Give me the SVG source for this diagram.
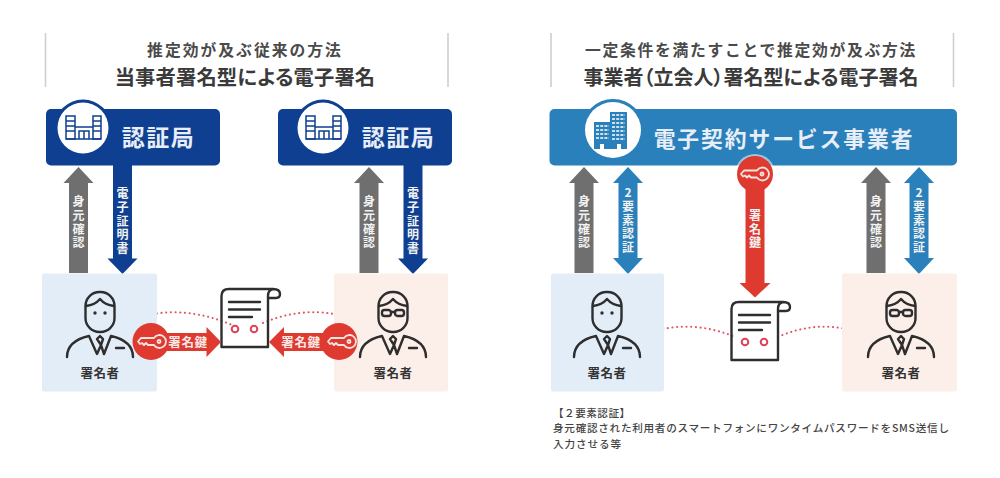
<svg xmlns="http://www.w3.org/2000/svg" xmlns:xlink="http://www.w3.org/1999/xlink" width="1000" height="478" viewBox="0 0 1000 478">
<style>
text{font-family:"Noto Sans CJK JP","Noto Sans",sans-serif;}
.rule{stroke:#cfcfcf;stroke-width:1.6;fill:none}
.t1{font-size:15.8px;font-weight:700;fill:#4a4a4a;text-anchor:middle;letter-spacing:2px}
.t2{font-size:20px;font-weight:700;fill:#3a3a3a;text-anchor:middle;font-feature-settings:"palt"}
.navy{fill:#0e3f91}.sky{fill:#2a80ba}.gray{fill:#6f6f6f}.red{fill:#de3a30}
.big{font-size:23px;font-weight:700;fill:#e8eef7;text-anchor:middle;letter-spacing:1.5px}
.v{font-size:12px;font-weight:700;fill:#f2f2f2;writing-mode:vertical-rl;text-anchor:middle;text-orientation:upright;letter-spacing:1.8px}
.h{font-size:12.5px;font-weight:700;fill:#fbe9e7;text-anchor:middle;letter-spacing:.6px}
.who{font-size:12.5px;font-weight:700;fill:#333;text-anchor:middle;letter-spacing:.5px}
.ln{fill:none;stroke:#2e2e2e;stroke-width:2.4;stroke-linecap:round;stroke-linejoin:round}
.dot{fill:none;stroke:#e0576a;stroke-width:2.1;stroke-dasharray:.1 4.6;stroke-linecap:round}
.note{font-size:10.6px;fill:#444;font-weight:500}
</style>
<defs>
<g id="person-base">
<rect class="ln" x="-14.5" y="0" width="29" height="40" rx="14"/>
<path class="ln" d="M-14 14Q-5 13 0 7Q5 13 14 14"/>
<path class="ln" d="M-33 65C-33 54 -24 47 -11 44L-3 62L1 53L-3 47L0 44L3 47L1 53L4 62L11 44C24 47 33 54 33 65M16 56H24"/>
</g>
<g id="person-a"><use xlink:href="#person-base"/><circle cx="-5" cy="21" r="1.7" fill="#2e2e2e"/><circle cx="5" cy="21" r="1.7" fill="#2e2e2e"/></g>
<g id="person-b"><use xlink:href="#person-base"/><rect class="ln" x="-11" y="18" width="9" height="6" rx="2.5"/><rect class="ln" x="2" y="18" width="9" height="6" rx="2.5"/><path class="ln" d="M-2 20H2"/></g>
<g id="doc">
<path class="ln" d="M250 289H229Q221.500 289 221.500 296V347H268V296Q268 290 273 289H250M273 289Q280 289 280 294Q280 298 276 298H268"/>
<path class="ln" d="M229 302H260M229 309.500H260M229 317H252"/>
<circle cx="235" cy="329" r="3.300" fill="none" stroke="#e0405a" stroke-width="2"/>
<circle cx="254" cy="329" r="3.300" fill="none" stroke="#e0405a" stroke-width="2"/>
</g>
<g id="key" fill="none" stroke="#f7e3e1" stroke-width="1.800" stroke-linejoin="round">
<path d="M3 -3.500A6.500 6.500 0 1 1 3 3.500H-3L-5 1.500L-7 3.500L-9 1.500L-11 2.500L-13 0L-10 -3.500Z"/><circle cx="8" cy="0" r="1.500"/>
</g>
<g id="bldg-a" fill="none" stroke="#0e3f91" stroke-width="1.500">
<rect x="-17" y="-12" width="9" height="23"/><rect x="10" y="-12" width="8" height="23"/><path d="M-8 -1H10M-4 11V3H6V11M-17 11H18M-17 -7H-8M-17 -2H-8M-17 3H-8M10 -7H18M10 -2H18M10 3H18M1 3V11"/>
</g>
<g id="bldg-b">
<rect x="-17" y="-8" width="17" height="27" fill="#2a80ba"/><rect x="-1" y="-18" width="17" height="37" fill="#2a80ba"/>
<path stroke="#fff" stroke-width="1.500" fill="none" stroke-dasharray="3 1.200" d="M-15 -4H-2M-15 0H-2M-15 4H-2M-15 8H-2M1 -15H14M1 -11H14M1 -7H14M1 -3H14M1 1H14M1 5H14M1 9H14"/>
<path fill="#fff" d="M-11 14h4v5h-4zM6 14h4v5h-4z"/>
</g>
<path id="up" d="M0 -53L15 -37H9.500V53H-9.500V-37H-15Z"/>
<path id="down" d="M0 54.500L15 39H9.500V-54.500H-9.500V39H-15Z"/>
<path id="both" d="M0 -53.500L15 -37.500H9.500V37.500H15L0 53.500L-15 37.500H-9.500V-37.500H-15Z"/>
</defs>

<g id="header-left">
<path class="rule" d="M45.500 33V87M448 33V87"/>
<text class="t1" x="245" y="56">推定効が及ぶ従来の方法</text>
<text class="t2" x="245" y="85" style="font-size:20.300px;letter-spacing:.15px">当事者署名型による電子署名</text>
</g>
<g id="header-right">
<path class="rule" d="M551 33V87M953.500 33V87"/>
<text class="t1" x="751" y="56" style="letter-spacing:1.7px">一定条件を満たすことで推定効が及ぶ方法</text>
<text class="t2" x="751" y="85">事業者（立会人）署名型による電子署名</text>
</g>

<g id="connectors">
<path class="dot" d="M134 319Q180 303 232 325"/>
<path class="dot" d="M263 323Q310 303 356 320"/>
<path class="dot" d="M645 334Q690 318 735 337"/>
<path class="dot" d="M778 337Q820 318 864 334"/>
<g id="arrows-left">
<use class="gray" xlink:href="#up" x="78.500" y="220"/>
<use class="navy" xlink:href="#down" x="122.500" y="219.500"/>
<use class="gray" xlink:href="#up" x="369" y="220"/>
<use class="navy" xlink:href="#down" x="413" y="219.500"/>
</g>
<g id="arrows-right">
<use class="gray" xlink:href="#up" x="584" y="220"/>
<use class="sky" xlink:href="#both" x="628" y="220.500"/>
<use class="gray" xlink:href="#up" x="876" y="220"/>
<use class="sky" xlink:href="#both" x="919" y="220.500"/>
</g>
</g>

<g id="node-ca-left">
<rect class="navy" x="46" y="109" width="174" height="56.500" rx="5"/>
<circle class="navy" cx="83" cy="128" r="28.500"/><circle cx="83" cy="128" r="25.500" fill="#fff"/>
<use xlink:href="#bldg-a" x="83" y="128"/>
<text class="big" x="158.500" y="145.500">認証局</text>
</g>
<g id="node-ca-right">
<rect class="navy" x="278" y="109" width="174" height="56.500" rx="5"/>
<circle class="navy" cx="323" cy="128" r="28.500"/><circle cx="323" cy="128" r="25.500" fill="#fff"/>
<use xlink:href="#bldg-a" x="323" y="128"/>
<text class="big" x="398.500" y="145.500">認証局</text>
</g>
<g id="node-provider">
<rect class="sky" x="549.500" y="109" width="407.500" height="56.500" rx="5"/>
<circle class="sky" cx="613" cy="130" r="31"/><circle cx="613" cy="130" r="28" fill="#fff"/>
<use xlink:href="#bldg-b" x="611" y="130"/>
<text class="big" x="784" y="147" style="letter-spacing:1.9px;font-size:21.800px">電子契約サービス事業者</text>
</g>

<g id="arrow-labels">
<text class="v" x="78.500" y="223">身元確認</text>
<text class="v" x="122.500" y="222">電子証明書</text>
<text class="v" x="369" y="223">身元確認</text>
<text class="v" x="413" y="222">電子証明書</text>
<text class="v" x="584" y="223">身元確認</text>
<text class="v" x="628" y="221">2要素認証</text>
<text class="v" x="876" y="223">身元確認</text>
<text class="v" x="919" y="221">2要素認証</text>
</g>

<g id="node-signer-a1"><rect x="42" y="273.500" width="115" height="118" rx="2" fill="#e3edf8"/><use xlink:href="#person-a" x="100" y="292"/><text class="who" x="100" y="378">署名者</text></g>
<g id="node-signer-b1"><rect x="334" y="273.500" width="114" height="118" rx="2" fill="#fcefe9"/><use xlink:href="#person-b" x="393" y="292"/><text class="who" x="393" y="378">署名者</text></g>
<g id="node-signer-a2"><rect x="551" y="273.500" width="113" height="118" rx="2" fill="#e3edf8"/><use xlink:href="#person-a" x="607" y="292"/><text class="who" x="607" y="378">署名者</text></g>
<g id="node-signer-b2"><rect x="842" y="273.500" width="115" height="118" rx="2" fill="#fcefe9"/><use xlink:href="#person-b" x="901" y="292"/><text class="who" x="901" y="378">署名者</text></g>

<g id="node-doc-left"><use xlink:href="#doc"/></g>
<g id="node-doc-right"><use xlink:href="#doc" x="510" y="13"/></g>

<g id="key-left">
<circle class="red" cx="151" cy="341.500" r="18.500"/>
<path class="red" d="M151 333H206.500V327L221 342L206.500 357V351H151Z"/>
<use xlink:href="#key" x="151" y="341.500"/>
<text class="h" x="188" y="346.500">署名鍵</text>
</g>
<g id="key-right">
<circle class="red" cx="339" cy="341.500" r="18.500"/>
<path class="red" d="M339 333H284V327L269 342L284 357V351H339Z"/>
<use xlink:href="#key" x="341" y="341.500"/>
<text class="h" x="301" y="346.500">署名鍵</text>
</g>
<g id="key-center">
<circle cx="755" cy="174" r="20" fill="#fff" opacity=".55"/>
<circle class="red" cx="755" cy="174" r="18"/>
<path class="red" d="M745.500 174H764.500V283H770.500L755 297.500L739.500 283H745.500Z"/>
<use xlink:href="#key" x="754" y="174"/>
<text class="v" x="755" y="230">署名鍵</text>
</g>

<g id="note">
<text class="note" x="553" y="417" style="letter-spacing:.5px">【２要素認証】</text>
<text class="note" x="553" y="432" textLength="396">身元確認された利用者のスマートフォンにワンタイムパスワードをSMS送信し</text>
<text class="note" x="553" y="448" style="letter-spacing:.9px">入力させる等</text>
</g>
</svg>
